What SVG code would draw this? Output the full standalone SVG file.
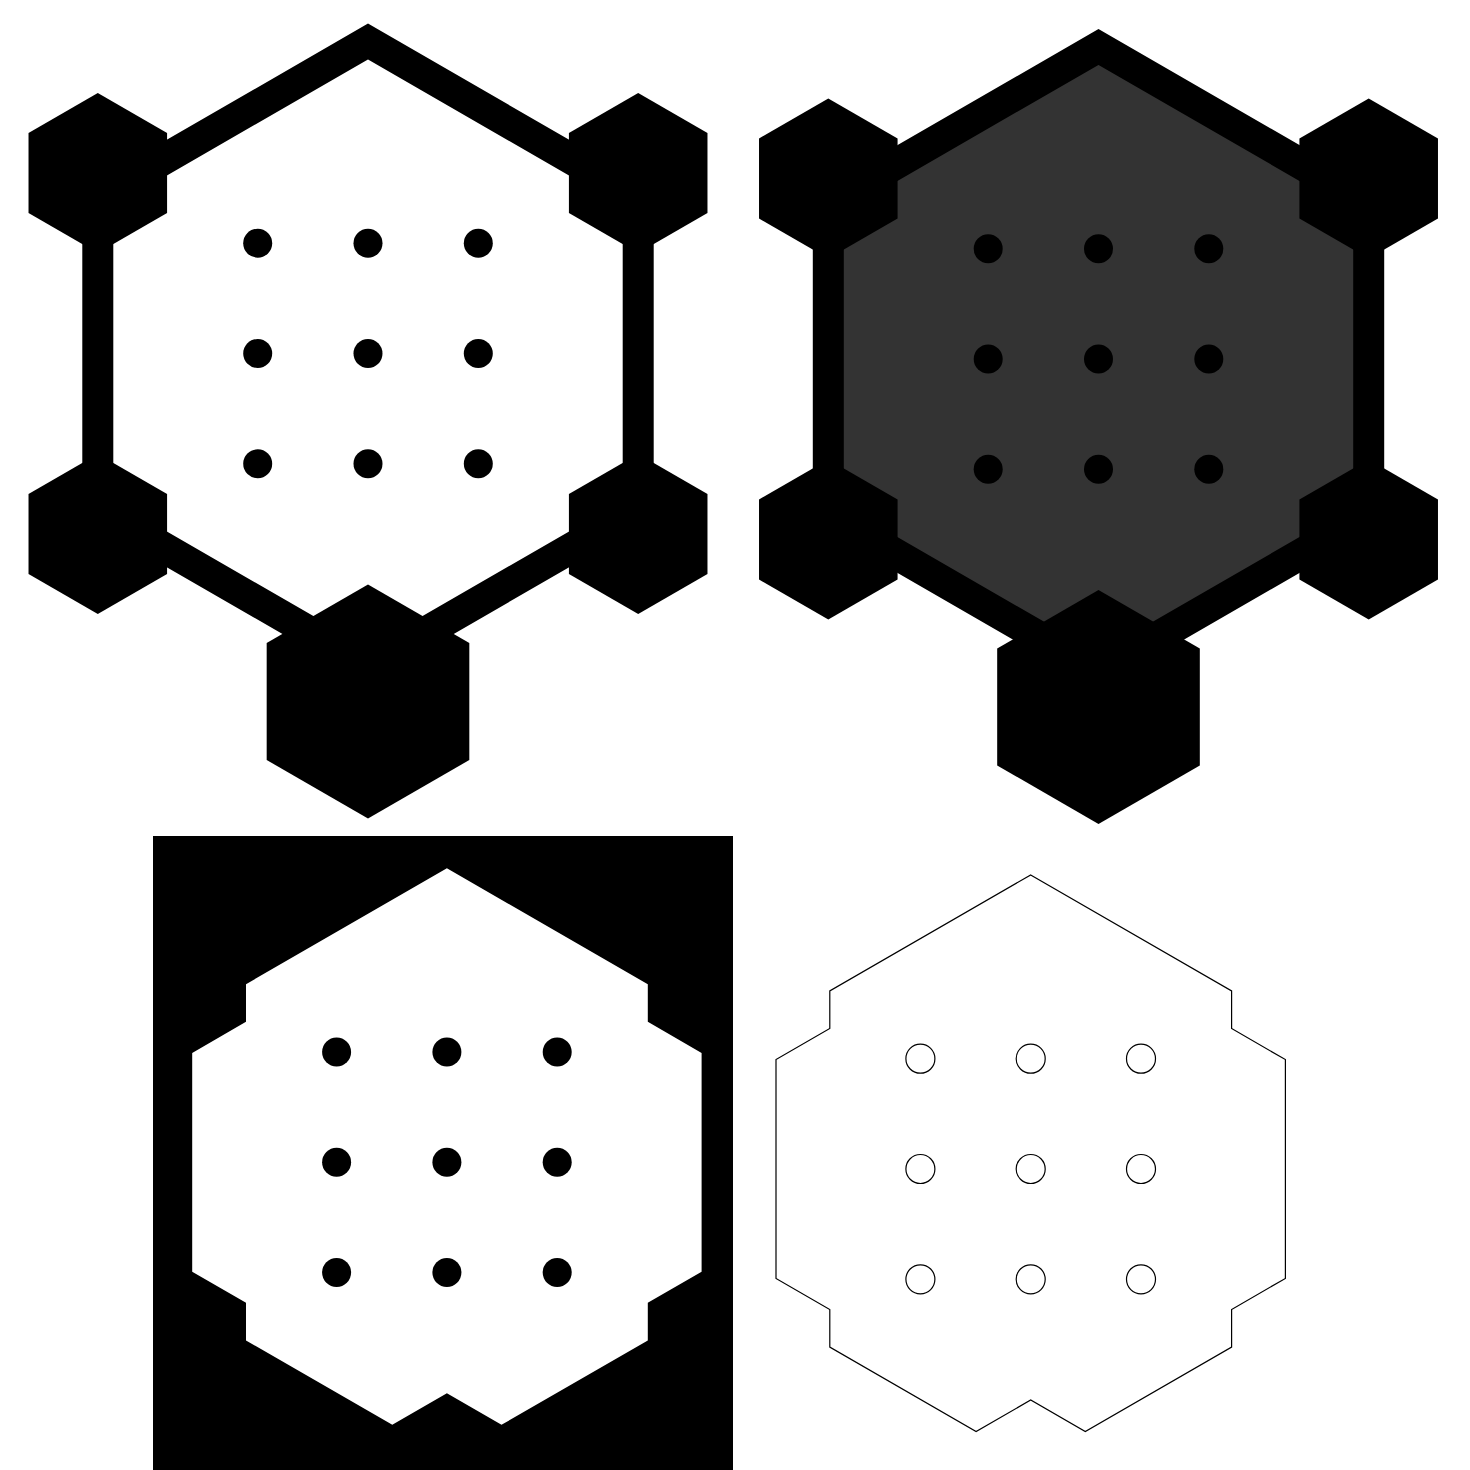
<svg xmlns="http://www.w3.org/2000/svg" xmlns:xlink="http://www.w3.org/1999/xlink" width="1470" height="1470" viewBox="0 0 1470 1470">
  <style>
    .solid { fill: #000000; }
    .frame { fill: none; stroke: #000000; stroke-width: 31; stroke-linejoin: miter; }
    .frame-dark { fill: #333333; stroke: #000000; stroke-width: 31; stroke-linejoin: miter; }
    .hole { fill: #ffffff; }
    .outline { fill: none; stroke: #000000; stroke-width: 1.2; }
  </style>
  <defs>
    <polygon id="hexS" points="0,-80 69.28,-40 69.28,40 0,80 -69.28,40 -69.28,-40"/>
    <polygon id="hexL" points="0,-117 101.32,-58.5 101.32,58.5 0,117 -101.32,58.5 -101.32,-58.5"/>
    <polygon id="hexBig" points="0,-312 270.2,-156 270.2,156 0,312 -270.2,156 -270.2,-156"/>
    <polygon id="inner" points="0,-294.1 200.9,-178.1 200.9,-140.5 254.7,-109.4 254.7,109.4 200.9,140.5 200.9,178.1 54.6,262.5 0,231 -54.6,262.5 -200.9,178.1 -200.9,140.5 -254.7,109.4 -254.7,-109.4 -200.9,-140.5 -200.9,-178.1"/>
    <g id="dotsFilled">
      <circle cx="-110.3" cy="-110.3" r="14.5"/>
      <circle cx="0" cy="-110.3" r="14.5"/>
      <circle cx="110.3" cy="-110.3" r="14.5"/>
      <circle cx="-110.3" cy="0" r="14.5"/>
      <circle cx="0" cy="0" r="14.5"/>
      <circle cx="110.3" cy="0" r="14.5"/>
      <circle cx="-110.3" cy="110.3" r="14.5"/>
      <circle cx="0" cy="110.3" r="14.5"/>
      <circle cx="110.3" cy="110.3" r="14.5"/>
    </g>
  </defs>

  <rect width="1470" height="1470" fill="#ffffff"/>

  <!-- Panel 1: outlined hexagon with corner hexagons -->
  <g id="panel-1" transform="translate(368,353.5)">
    <use id="p1-frame" xlink:href="#hexBig" class="frame"/>
    <g id="p1-dots" class="solid"><use xlink:href="#dotsFilled"/></g>
    <g id="p1-corners" class="solid">
      <use xlink:href="#hexS" x="-270.2" y="-180.5"/>
      <use xlink:href="#hexS" x="270.2" y="-180.5"/>
      <use xlink:href="#hexS" x="-270.2" y="180.5"/>
      <use xlink:href="#hexS" x="270.2" y="180.5"/>
      <use xlink:href="#hexL" x="0" y="348"/>
    </g>
  </g>

  <!-- Panel 2: same icon with dark fill -->
  <g id="panel-2" transform="translate(1098.5,359)">
    <use id="p2-frame" xlink:href="#hexBig" class="frame-dark"/>
    <g id="p2-dots" class="solid"><use xlink:href="#dotsFilled"/></g>
    <g id="p2-corners" class="solid">
      <use xlink:href="#hexS" x="-270.2" y="-180.5"/>
      <use xlink:href="#hexS" x="270.2" y="-180.5"/>
      <use xlink:href="#hexS" x="-270.2" y="180.5"/>
      <use xlink:href="#hexS" x="270.2" y="180.5"/>
      <use xlink:href="#hexL" x="0" y="348"/>
    </g>
  </g>

  <!-- Panel 3: knocked-out interior on black square -->
  <g id="panel-3">
    <rect x="153" y="836" width="580" height="634" class="solid"/>
    <g transform="translate(446.9,1162.3)">
      <use xlink:href="#inner" class="hole"/>
      <g class="solid"><use xlink:href="#dotsFilled"/></g>
    </g>
  </g>

  <!-- Panel 4: outline of interior -->
  <g id="panel-4" transform="translate(1030.7,1169)">
    <use xlink:href="#inner" class="outline"/>
    <circle cx="-110.3" cy="-110.3" r="14.5" class="outline"/>
    <circle cx="0" cy="-110.3" r="14.5" class="outline"/>
    <circle cx="110.3" cy="-110.3" r="14.5" class="outline"/>
    <circle cx="-110.3" cy="0" r="14.5" class="outline"/>
    <circle cx="0" cy="0" r="14.5" class="outline"/>
    <circle cx="110.3" cy="0" r="14.5" class="outline"/>
    <circle cx="-110.3" cy="110.3" r="14.5" class="outline"/>
    <circle cx="0" cy="110.3" r="14.5" class="outline"/>
    <circle cx="110.3" cy="110.3" r="14.5" class="outline"/>
  </g>
</svg>
